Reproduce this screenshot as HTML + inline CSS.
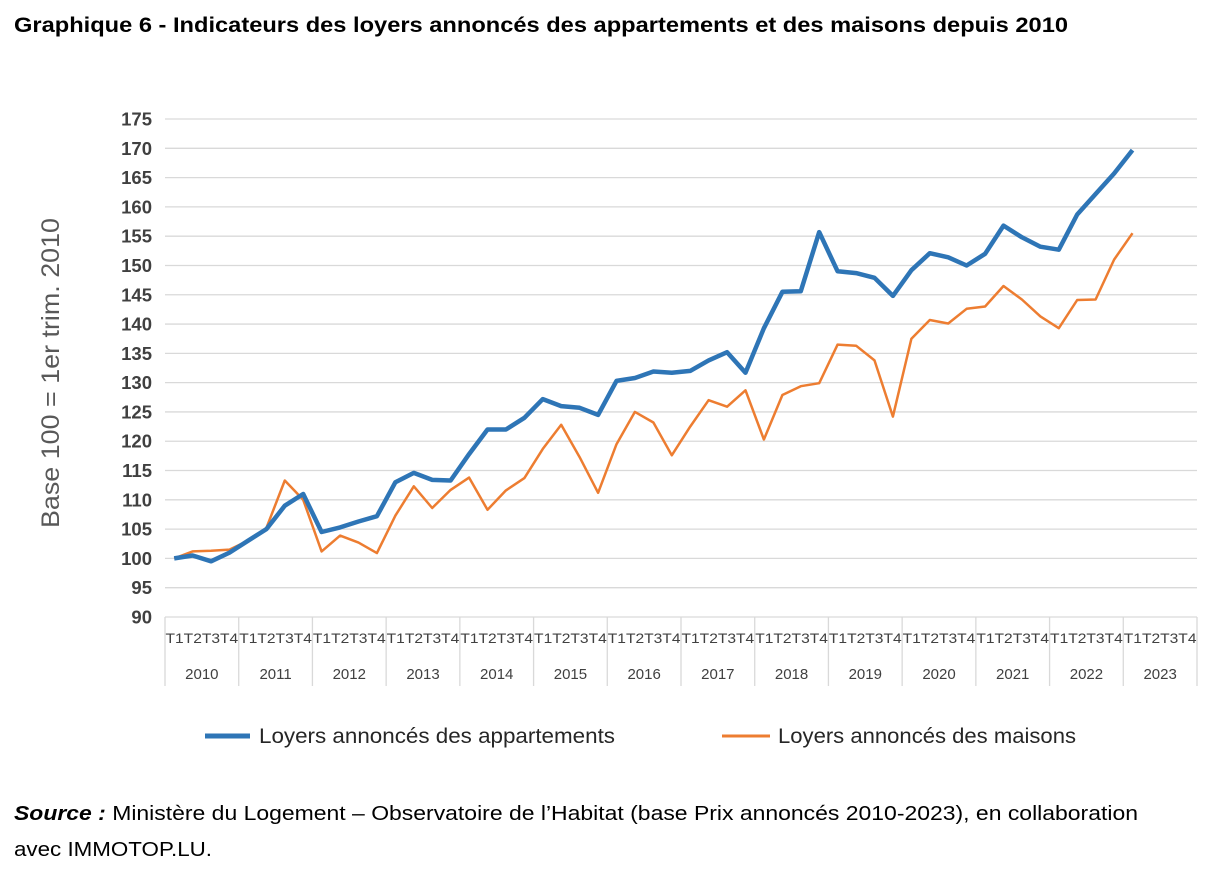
<!DOCTYPE html>
<html><head><meta charset="utf-8"><style>
html,body{margin:0;padding:0;background:#fff;width:1224px;height:871px;overflow:hidden;font-family:"Liberation Sans",sans-serif;}
</style></head><body>
<svg id="s" width="1224" height="871" xmlns="http://www.w3.org/2000/svg" font-family="Liberation Sans, sans-serif">
<text x="14" y="32" font-size="21" font-weight="bold" fill="#000" textLength="1054" lengthAdjust="spacingAndGlyphs">Graphique 6 - Indicateurs des loyers annoncés des appartements et des maisons depuis 2010</text>
<g id="grid"></g>
<text transform="translate(59,373) rotate(-90)" text-anchor="middle" font-size="25" fill="#595959" textLength="310" lengthAdjust="spacingAndGlyphs">Base 100 = 1er trim. 2010</text>
<line x1="205" y1="736" x2="250" y2="736" stroke="#2E75B6" stroke-width="5"/>
<text x="259" y="743" font-size="21" fill="#262626" textLength="356" lengthAdjust="spacingAndGlyphs">Loyers annoncés des appartements</text>
<line x1="722" y1="736" x2="770" y2="736" stroke="#ED7D31" stroke-width="3"/>
<text x="778" y="743" font-size="21" fill="#262626" textLength="298" lengthAdjust="spacingAndGlyphs">Loyers annoncés des maisons</text>
<text x="14" y="820" font-size="20" fill="#000" textLength="1124" lengthAdjust="spacingAndGlyphs"><tspan font-weight="bold" font-style="italic">Source :</tspan> Ministère du Logement – Observatoire de l’Habitat (base Prix annoncés 2010-2023), en collaboration</text>
<text x="14" y="856" font-size="20" fill="#000" textLength="198" lengthAdjust="spacingAndGlyphs">avec IMMOTOP.LU.</text>
</svg>
<script>
var s=document.getElementById('grid'),h='';
function Y(v){return 617-(v-90)*498/85;}
for(var v=90;v<=175;v+=5){var y=Y(v);h+='<line x1="165" x2="1197" y1="'+y+'" y2="'+y+'" stroke="#d9d9d9" stroke-width="1.3"/>';
h+='<text x="152" y="'+(y+6.5)+'" text-anchor="end" font-size="18.5" font-weight="bold" fill="#404040">'+v+'</text>';}
var qw=1032/56;
for(var yr=0;yr<=14;yr++){var x=165+yr*4*qw;h+='<line x1="'+x+'" x2="'+x+'" y1="617" y2="686" stroke="#d9d9d9" stroke-width="1.3"/>';
if(yr<14){h+='<text x="'+(x+2*qw)+'" y="643" text-anchor="middle" font-size="14" fill="#404040" textLength="'+(4*qw-1)+'" lengthAdjust="spacingAndGlyphs">T1T2T3T4</text>';
h+='<text x="'+(x+2*qw)+'" y="679" text-anchor="middle" font-size="15" fill="#404040">'+(2010+yr)+'</text>';}}
var a=[100,100.5,99.5,101,103,105,109,111,104.5,105.3,106.3,107.2,113,114.6,113.4,113.3,117.8,122,122,124,127.2,126,125.7,124.5,130.3,130.8,131.9,131.7,132,133.8,135.2,131.7,139.3,145.5,145.6,155.7,149,148.7,147.9,144.8,149.2,152.1,151.4,150,152,156.8,154.8,153.2,152.7,158.7,162.2,165.7,169.7];
var m=[100,101.2,101.3,101.5,103,105.2,113.3,110,101.2,103.9,102.7,100.9,107.3,112.3,108.6,111.7,113.8,108.3,111.6,113.7,118.7,122.8,117.3,111.2,119.5,125,123.2,117.6,122.5,127,125.9,128.7,120.3,127.9,129.4,129.9,136.5,136.3,133.8,124.2,137.5,140.7,140.1,142.6,143,146.5,144.2,141.3,139.3,144.1,144.2,151,155.5];
function P(d){return d.map(function(v,i){return (165+qw*(i+0.5)).toFixed(1)+','+Y(v).toFixed(1);}).join(' ');}
h+='<polyline points="'+P(m)+'" fill="none" stroke="#ED7D31" stroke-width="2.5" stroke-linejoin="round"/>';
h+='<polyline points="'+P(a)+'" fill="none" stroke="#2E75B6" stroke-width="4.5" stroke-linejoin="round"/>';
s.innerHTML=h;
</script>
</body></html>
